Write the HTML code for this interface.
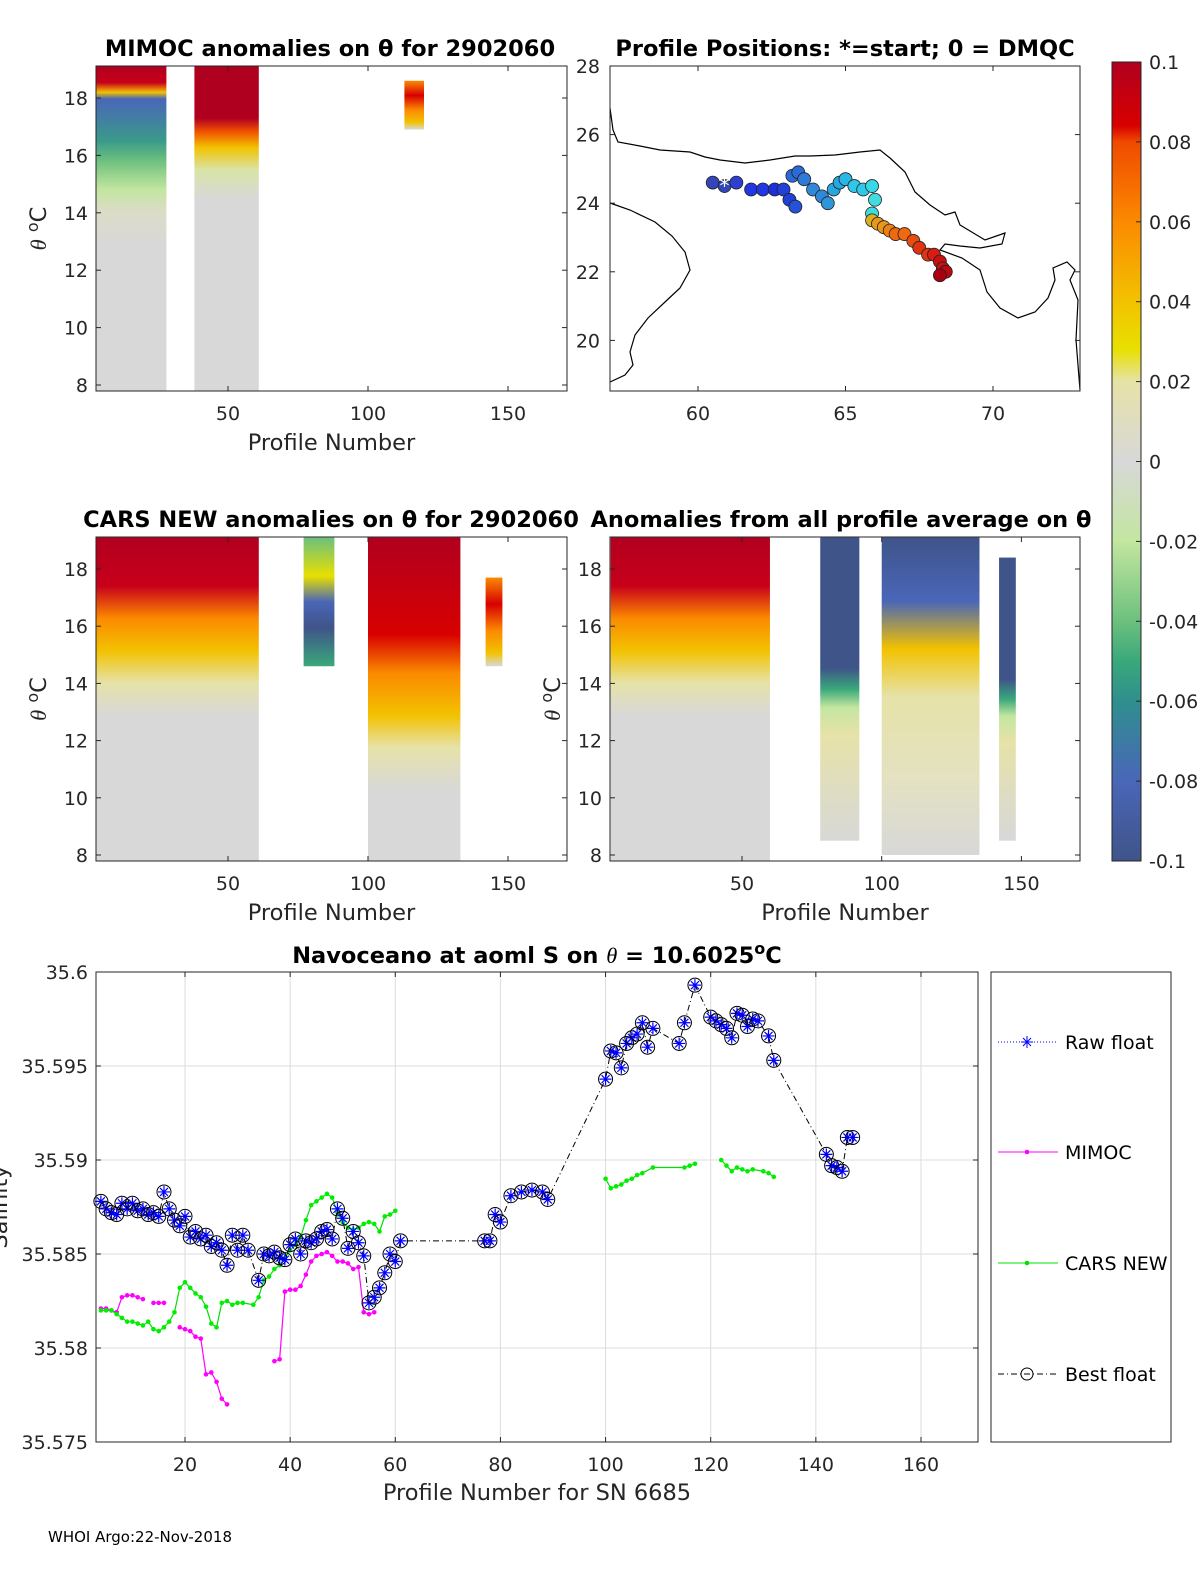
<!DOCTYPE html>
<html><head><meta charset="utf-8">
<style>
html,body{margin:0;padding:0;background:#fff;}
svg{display:block;font-family:"DejaVu Sans","Liberation Sans",sans-serif;}
.t{font-size:19px;fill:#262626;}
.ttl{font-size:22.5px;font-weight:bold;fill:#000;}
.lab{font-size:22.5px;fill:#262626;}
</style></head><body>
<svg id="fig" width="1200" height="1575" viewBox="0 0 1200 1575" xmlns="http://www.w3.org/2000/svg">
<defs>
<linearGradient id="cb" x1="0" y1="1" x2="0" y2="0">
<stop offset="0" stop-color="#3f5489"/><stop offset="0.1" stop-color="#4a66b8"/><stop offset="0.2" stop-color="#2f8f8e"/><stop offset="0.25" stop-color="#3aa87a"/><stop offset="0.3" stop-color="#6cc07e"/><stop offset="0.4" stop-color="#c3e6a0"/><stop offset="0.5" stop-color="#d8d8d8"/><stop offset="0.6" stop-color="#e6e2a8"/><stop offset="0.64" stop-color="#e8e000"/><stop offset="0.7" stop-color="#f2c200"/><stop offset="0.8" stop-color="#fb8a00"/><stop offset="0.9" stop-color="#f04a00"/><stop offset="0.92" stop-color="#d80000"/><stop offset="1" stop-color="#b0001f"/>
</linearGradient>
<linearGradient id="gMim1" x1="0" y1="0" x2="0" y2="1">
<stop offset="0" stop-color="#b0001f"/><stop offset="0.05" stop-color="#c8001a"/><stop offset="0.08" stop-color="#f2c200"/><stop offset="0.1" stop-color="#4a66b8"/><stop offset="0.23" stop-color="#3a9a8a"/><stop offset="0.29" stop-color="#6cc07e"/><stop offset="0.38" stop-color="#c3e6a0"/><stop offset="0.45" stop-color="#dcdcc8"/><stop offset="0.55" stop-color="#d8d8d8"/><stop offset="1" stop-color="#d8d8d8"/>
</linearGradient>
<linearGradient id="gMim3" x1="0" y1="0" x2="0" y2="1">
<stop offset="0" stop-color="#b0001f"/><stop offset="0.16" stop-color="#b0001f"/><stop offset="0.2" stop-color="#f05000"/><stop offset="0.25" stop-color="#f2c200"/><stop offset="0.32" stop-color="#d8e4a8"/><stop offset="0.41" stop-color="#d8d8d8"/><stop offset="1" stop-color="#d8d8d8"/>
</linearGradient>
<linearGradient id="gMim2" x1="0" y1="0" x2="0" y2="1">
<stop offset="0" stop-color="#b0001f"/><stop offset="0.15" stop-color="#c8001a"/><stop offset="0.25" stop-color="#fb8a00"/><stop offset="0.35" stop-color="#f2c200"/><stop offset="0.45" stop-color="#e6e2a8"/><stop offset="0.55" stop-color="#d8d8d8"/><stop offset="1" stop-color="#d8d8d8"/>
</linearGradient>
<linearGradient id="gOr" x1="0" y1="0" x2="0" y2="1">
<stop offset="0" stop-color="#fb8a00"/><stop offset="0.3" stop-color="#d80000"/><stop offset="0.6" stop-color="#fb8a00"/><stop offset="0.85" stop-color="#f2c200"/><stop offset="1" stop-color="#d8d8d8"/>
</linearGradient>
<linearGradient id="gBlueMix" x1="0" y1="0" x2="0" y2="1">
<stop offset="0" stop-color="#6cc07e"/><stop offset="0.3" stop-color="#e8e000"/><stop offset="0.5" stop-color="#4a66b8"/><stop offset="0.7" stop-color="#3f5489"/><stop offset="1" stop-color="#3aa87a"/>
</linearGradient>
<linearGradient id="gCars3" x1="0" y1="0" x2="0" y2="1">
<stop offset="0" stop-color="#b0001f"/><stop offset="0.3" stop-color="#d80000"/><stop offset="0.42" stop-color="#fb8a00"/><stop offset="0.55" stop-color="#f2c200"/><stop offset="0.65" stop-color="#e6e2a8"/><stop offset="0.78" stop-color="#d8d8d8"/><stop offset="1" stop-color="#d8d8d8"/>
</linearGradient>
<linearGradient id="gBlueTop" x1="0" y1="0" x2="0" y2="1">
<stop offset="0" stop-color="#3f5489"/><stop offset="0.43" stop-color="#3f5489"/><stop offset="0.5" stop-color="#3aa87a"/><stop offset="0.56" stop-color="#c3e6a0"/><stop offset="0.65" stop-color="#e6e2a8"/><stop offset="1" stop-color="#d8d8d8"/>
</linearGradient>
<linearGradient id="gMix4" x1="0" y1="0" x2="0" y2="1">
<stop offset="0" stop-color="#3f5489"/><stop offset="0.2" stop-color="#4a66b8"/><stop offset="0.35" stop-color="#f2c200"/><stop offset="0.5" stop-color="#e6e2a8"/><stop offset="0.75" stop-color="#e4e2c0"/><stop offset="1" stop-color="#d8d8d8"/>
</linearGradient>
</defs>
<g id="panels"></g>
<g id="map"></g>
<g id="bottom"></g>
<text x="48" y="1542" font-size="15" fill="#000">WHOI Argo:22-Nov-2018</text>
</svg>
<script>
// ===== bottom chart data =====
const bestP = [4,5,6,7,8,9,10,11,12,13,14,15,16,17,18,19,20,21,22,23,24,25,26,27,28,29,30,31,32,34,35,36,37,38,39,40,41,42,43,44,45,46,47,48,49,50,51,52,53,54,55,56,57,58,59,60,61,77,78,79,80,82,84,86,88,89,100,101,102,103,104,105,106,107,108,109,114,115,117,120,121,122,123,124,125,126,127,128,129,131,132,142,143,144,145,146,147];
const bestS = [35.5878,35.5874,35.5872,35.5871,35.5877,35.5874,35.5877,35.5873,35.5874,35.5871,35.5872,35.5870,35.5883,35.5874,35.5868,35.5865,35.5870,35.5859,35.5862,35.5858,35.5860,35.5854,35.5856,35.5852,35.5844,35.5860,35.5852,35.5860,35.5852,35.5836,35.5850,35.5849,35.5851,35.5848,35.5847,35.5855,35.5858,35.5850,35.5857,35.5856,35.5858,35.5862,35.5863,35.5858,35.5874,35.5869,35.5853,35.5862,35.5856,35.5849,35.5824,35.5827,35.5832,35.5840,35.5850,35.5846,35.5857,35.5857,35.5857,35.5871,35.5867,35.5881,35.5883,35.5884,35.5883,35.5879,35.5943,35.5958,35.5957,35.5949,35.5962,35.5965,35.5967,35.5973,35.5960,35.5970,35.5962,35.5973,35.5993,35.5976,35.5974,35.5972,35.5970,35.5965,35.5978,35.5977,35.5971,35.5975,35.5974,35.5966,35.5953,35.5903,35.5897,35.5896,35.5894,35.5912,35.5912];
const carsSegP = [
 [4,5,6,7,8,9,10,11,12,13,14,15,16,17,18,19,20,21,22,23,24,25,26,27,28,29,30,31,33,34,35,36,37,38,39,40,41,42,43,44,45,46,47,48,49,50,51,52,53,54,55,56,57,58,59,60],
 [100,101,102,103,104,105,106,107,109,115,116,117],
 [122,123,124,125,126,127,128,130,131,132]];
const carsSegS = [
 [35.5820,35.5820,35.5820,35.5818,35.5816,35.5814,35.5814,35.5813,35.5812,35.5814,35.5810,35.5809,35.5811,35.5814,35.5819,35.5832,35.5835,35.5832,35.5829,35.5827,35.5822,35.5813,35.5811,35.5824,35.5825,35.5823,35.5824,35.5824,35.5823,35.5827,35.5836,35.5838,35.5842,35.5844,35.5848,35.5852,35.5855,35.5859,35.5868,35.5876,35.5878,35.5880,35.5882,35.5880,35.5872,35.5867,35.5864,35.5863,35.5864,35.5866,35.5867,35.5866,35.5862,35.5870,35.5871,35.5873],
 [35.5890,35.5885,35.5886,35.5887,35.5889,35.5890,35.5892,35.5893,35.5896,35.5896,35.5897,35.5898],
 [35.5900,35.5897,35.5894,35.5896,35.5895,35.5894,35.5895,35.5894,35.5893,35.5891]];
const mimSegP = [[4,5,6,7,8,9,10,11,12],[14,15,16],[19,20,21,22,23,24,25,26,27,28],[37,38,39,40,41,42,43,44,45,46,47,48,49,50,51,52,53,54,55,56]];
const mimS = [
 [35.5821,35.5821,35.5820,35.5819,35.5827,35.5828,35.5828,35.5827,35.5826],
 [35.5824,35.5824,35.5824],
 [35.5811,35.5810,35.5809,35.5806,35.5805,35.5786,35.5787,35.5782,35.5773,35.5770],
 [35.5793,35.5794,35.5830,35.5831,35.5831,35.5833,35.5839,35.5846,35.5849,35.5850,35.5851,35.5849,35.5846,35.5846,35.5845,35.5842,35.5843,35.5819,35.5818,35.5819]];
const xTicksB = [20,40,60,80,100,120,140,160];
const yTicksB = [35.575,35.58,35.585,35.59,35.595,35.6];

// ===== map data =====
const trackLon = [60.5,60.9,61.3,61.8,62.2,62.6,62.9,63.1,63.3,63.2,63.4,63.6,63.9,64.2,64.4,64.6,64.8,65.0,65.3,65.6,65.9,66.0,65.9,65.9,66.1,66.3,66.5,66.7,67.0,67.3,67.5,67.8,68.0,68.2,68.3,68.4,68.2];
const trackLat = [24.6,24.5,24.6,24.4,24.4,24.4,24.4,24.1,23.9,24.8,24.9,24.7,24.4,24.2,24.0,24.4,24.6,24.7,24.5,24.4,24.5,24.1,23.7,23.5,23.4,23.3,23.2,23.1,23.1,22.9,22.7,22.5,22.5,22.3,22.1,22.0,21.9];
const mapXTicks = [60,65,70];
const mapYTicks = [20,22,24,26,28];

// ===== heatmap panel tick arrays =====
const profTicks = [50,100,150];
const thetaTicks = [8,10,12,14,16,18];
const cbTicks = [-0.1,-0.08,-0.06,-0.04,-0.02,0,0.02,0.04,0.06,0.08,0.1];
const cbLabels = ["-0.1","-0.08","-0.06","-0.04","-0.02","0","0.02","0.04","0.06","0.08","0.1"];

const NS="http://www.w3.org/2000/svg";
function mk(tag, attrs, parent){const e=document.createElementNS(NS,tag);for(const k in attrs)e.setAttribute(k,attrs[k]);parent.appendChild(e);return e;}

// ----- heatmap panels -----
const P = document.getElementById('panels');
const panels = [
 {x0:96,x1:567,y0:66,y1:391,title:"MIMOC anomalies on \u03b8  for 2902060",tx:330,name:'mimoc-panel',
  blocks:[[3,28,19.1,7.8,'gMim1'],[38,61,19.1,7.8,'gMim3'],[113,120,18.6,16.9,'gOr']]},
 {x0:96,x1:567,y0:537,y1:861,title:"CARS NEW anomalies on \u03b8 for 2902060",tx:331,name:'cars-panel',
  blocks:[[3,61,19.1,7.8,'gMim2'],[77,88,19.1,14.6,'gBlueMix'],[100,133,19.1,7.8,'gCars3'],[142,148,17.7,14.6,'gOr']]},
 {x0:610,x1:1080,y0:537,y1:861,title:"Anomalies from all profile average on \u03b8",tx:841,name:'average-panel',
  blocks:[[3,60,19.1,7.8,'gMim2'],[78,92,19.1,8.5,'gBlueTop'],[100,135,19.1,8.0,'gMix4'],[142,148,18.4,8.5,'gBlueTop']]}
];
panels.forEach(pn=>{
  const g = mk('g',{},P);
  
  
  const sx = p=>pn.x0+132+(p-50)*2.8*(pn.x1-pn.x0)/471;
  const ty = pn.y0+32, by=pn.y1-6;
  const sy = t=>ty+(18-t)*(by-ty)/10;
  pn.blocks.forEach(b=>{
    const x=sx(b[0]), w=sx(b[1])-x, y=Math.max(pn.y0,sy(b[2])), h=Math.min(pn.y1,sy(b[3]))-y;
    const r = mk('rect',{x:x,y:y,width:w,height:h,fill:'url(#'+b[4]+')'},g);
    
    
  });
  mk('rect',{x:pn.x0,y:pn.y0,width:pn.x1-pn.x0,height:pn.y1-pn.y0,fill:'none',stroke:'#262626','stroke-width':1},g);
  profTicks.forEach(p=>{const x=sx(p);mk('line',{x1:x,x2:x,y1:pn.y1,y2:pn.y1-5,stroke:'#262626'},g);mk('line',{x1:x,x2:x,y1:pn.y0,y2:pn.y0+5,stroke:'#262626'},g);
    const t=mk('text',{x:x,y:pn.y1+29,'text-anchor':'middle',class:'t'},g);t.textContent=p;});
  thetaTicks.forEach(v=>{const y=sy(v);mk('line',{x1:pn.x0,x2:pn.x0+5,y1:y,y2:y,stroke:'#262626'},g);mk('line',{x1:pn.x1,x2:pn.x1-5,y1:y,y2:y,stroke:'#262626'},g);
    const t=mk('text',{x:pn.x0-8,y:y+7,'text-anchor':'end',class:'t'},g);t.textContent=v;});
  const tt=mk('text',{x:pn.tx,y:pn.y0-10,'text-anchor':'middle',class:'ttl'},g);tt.textContent=pn.title;
  
  const xl=mk('text',{x:(pn.x0+pn.x1)/2,y:pn.y1+59,'text-anchor':'middle',class:'lab'},g);xl.textContent='Profile Number';
  
  const cy=(pn.y0+pn.y1)/2;
  const yl=mk('text',{x:pn.x0-50,y:cy,'text-anchor':'middle',class:'lab',transform:'rotate(-90 '+(pn.x0-50)+' '+cy+')'},g);
  yl.innerHTML='<tspan font-style="italic" font-family="Liberation Serif, serif">\u03b8</tspan> <tspan dy="-8" font-size="16">o</tspan><tspan dy="8">C</tspan>';
  
});

// ----- colorbar -----
const cbg = mk('g',{},P);


mk('rect',{x:1112,y:62,width:29,height:799,fill:'url(#cb)',stroke:'#262626'},cbg);
cbTicks.forEach((v,i)=>{const y=861-(v+0.1)/0.2*799;
  mk('line',{x1:1136,x2:1141,y1:y,y2:y,stroke:'#262626'},cbg);
  const t=mk('text',{x:1149,y:y+7,class:'t'},cbg);t.textContent=cbLabels[i];});

// ----- map -----
const M = document.getElementById('map');


const mx = lon=>698+(lon-60)*29.5, my = lat=>66+(28-lat)*34.3;
mk('path',{d:'M610,108 L613,130 L618,142 L640,146 L660,150 L690,152 L705,157 L720,160 L745,163 L770,160 L795,156 L810,156 L835,155 L860,152 L880,150 L890,158 L905,172 L915,192 L930,205 L945,215 L955,212 L960,225 L985,240 L1005,233 L1002,244 L980,248 L960,246 L945,244 L940,250 L962,258 L980,270 L987,292 L1000,308 L1018,318 L1035,312 L1048,298 L1055,280 L1053,268 L1067,262 L1075,270 L1070,280 L1078,300 L1076,340 L1080,390',fill:'none',stroke:'#000','stroke-width':1.2},M);
mk('path',{d:'M610,203 L630,210 L655,222 L672,236 L685,252 L690,270 L680,288 L665,302 L648,318 L635,335 L630,352 L633,365 L625,375 L610,382',fill:'none',stroke:'#000','stroke-width':1.2},M);
const cols=['#3246b8','#2d3fd0','#2238e0','#1c2fd8','#2040d8','#2452d8','#2a6ad8','#2e7ad8','#3088d8','#2c96d8','#28a6e0','#28b8e8','#30c8e8','#38d8e8','#40dce0','#d8b020','#e89818','#f08010','#f06810','#e84c10','#e03410','#d81e10','#c81010','#b80810','#a80010'];
trackLon.forEach((lon,i)=>{
  const c = mk('circle',{cx:mx(lon),cy:my(trackLat[i]),r:6.5,fill:cols[Math.floor(i/trackLon.length*cols.length)],stroke:'#222','stroke-width':0.8},M);
  
  
});
const st=mk('text',{x:mx(trackLon[1]),y:my(trackLat[1])+7,'text-anchor':'middle','font-size':'20',fill:'#fff'},M);st.textContent='*';
mk('rect',{x:610,y:66,width:470,height:325,fill:'none',stroke:'#262626'},M);
mapXTicks.forEach(v=>{const x=mx(v);mk('line',{x1:x,x2:x,y1:391,y2:386,stroke:'#262626'},M);mk('line',{x1:x,x2:x,y1:66,y2:71,stroke:'#262626'},M);
  const t=mk('text',{x:x,y:420,'text-anchor':'middle',class:'t'},M);t.textContent=v;});
mapYTicks.forEach(v=>{const y=my(v);mk('line',{x1:610,x2:615,y1:y,y2:y,stroke:'#262626'},M);mk('line',{x1:1080,x2:1075,y1:y,y2:y,stroke:'#262626'},M);
  const t=mk('text',{x:600,y:y+7,'text-anchor':'end',class:'t'},M);t.textContent=v;});
const mt=mk('text',{x:845,y:56,'text-anchor':'middle',class:'ttl'},M);mt.textContent='Profile Positions: *=start; 0 = DMQC';

// ----- bottom chart -----
const B = document.getElementById('bottom');


const X = p=>185+(p-20)*5.257, Y = s=>972+(35.6-s)*18800;
xTicksB.forEach(v=>{const x=X(v);mk('line',{x1:x,x2:x,y1:972,y2:1442,stroke:'#dcdcdc'},B);
  mk('line',{x1:x,x2:x,y1:1442,y2:1437,stroke:'#262626'},B);mk('line',{x1:x,x2:x,y1:972,y2:977,stroke:'#262626'},B);
  const t=mk('text',{x:x,y:1471,'text-anchor':'middle',class:'t'},B);t.textContent=v;});
yTicksB.forEach(v=>{const y=Y(v);mk('line',{x1:96,x2:978,y1:y,y2:y,stroke:'#dcdcdc'},B);
  mk('line',{x1:96,x2:101,y1:y,y2:y,stroke:'#262626'},B);mk('line',{x1:978,x2:973,y1:y,y2:y,stroke:'#262626'},B);
  const t=mk('text',{x:88,y:y+7,'text-anchor':'end',class:'t'},B);t.textContent=(Math.round(v*1000)/1000).toString();});
mk('rect',{x:96,y:972,width:882,height:470,fill:'none',stroke:'#262626'},B);
function poly(ps,ss,color,dash,w){return mk('polyline',{points:ps.map((p,i)=>X(p)+','+Y(ss[i])).join(' '),fill:'none',stroke:color,'stroke-width':w,'stroke-dasharray':dash||'none'},B);}
mimSegP.forEach((seg,k)=>{const l=poly(seg,mimS[k],'#ff00ff','',1.2);
  seg.forEach((p,i)=>{const c=mk('circle',{cx:X(p),cy:Y(mimS[k][i]),r:2.3,fill:'#ff00ff'},B);});});
carsSegP.forEach((seg,k)=>{const l=poly(seg,carsSegS[k],'#00e000','',1.2);
  seg.forEach((p,i)=>{const c=mk('circle',{cx:X(p),cy:Y(carsSegS[k][i]),r:2.3,fill:'#00ee00'},B);});});
const bl=poly(bestP,bestS,'#000','6 3 1 3',1);

bestP.forEach((p,i)=>{const x=X(p),y=Y(bestS[i]);
  const c=mk('circle',{cx:x,cy:y,r:7,fill:'none',stroke:'#000','stroke-width':1},B);
  
  const g=mk('path',{d:`M${x-6},${y}h12M${x},${y-6}v12M${x-4},${y-4}l8,8M${x-4},${y+4}l8,-8`,stroke:'#0000ff','stroke-width':1.2},B);
  });
const bt=mk('text',{x:537,y:963,'text-anchor':'middle',class:'ttl'},B);
bt.innerHTML='Navoceano at aoml S on <tspan font-style="italic" font-weight="normal" font-family="Liberation Serif, serif">\u03b8</tspan> = 10.6025<tspan dy="-9" font-size="16">o</tspan><tspan dy="9">C</tspan>';
const bx=mk('text',{x:537,y:1500,'text-anchor':'middle',class:'lab'},B);bx.textContent='Profile Number for SN 6685';
const by=mk('text',{x:7,y:1207,'text-anchor':'middle',class:'lab',transform:'rotate(-90 7 1207)'},B);by.textContent='Salinity';
// legend
const L=mk('g',{},B);


mk('rect',{x:991,y:972,width:180,height:470,fill:'#fff',stroke:'#262626'},L);
const leg=[['Raw float',1042,'#0000ff','1 2'],['MIMOC',1152,'#ff00ff',''],['CARS NEW',1263,'#00e000',''],['Best float',1374,'#000','6 3 1 3']];
leg.forEach(e=>{mk('line',{x1:998,x2:1058,y1:e[1],y2:e[1],stroke:e[2],'stroke-dasharray':e[3]||'none'},L);
  if(e[0]==='Raw float')mk('path',{d:`M1021,${e[1]}h12M1027,${e[1]-6}v12M1023,${e[1]-4}l8,8M1023,${e[1]+4}l8,-8`,stroke:'#0000ff'},L);
  else if(e[0]==='Best float')mk('circle',{cx:1027,cy:e[1],r:6,fill:'none',stroke:'#000'},L);
  else mk('circle',{cx:1027,cy:e[1],r:2.3,fill:e[2]},L);
  const t=mk('text',{x:1065,y:e[1]+7,'font-size':'19',fill:'#000'},L);t.textContent=e[0];
  });
</script>
</body></html>
